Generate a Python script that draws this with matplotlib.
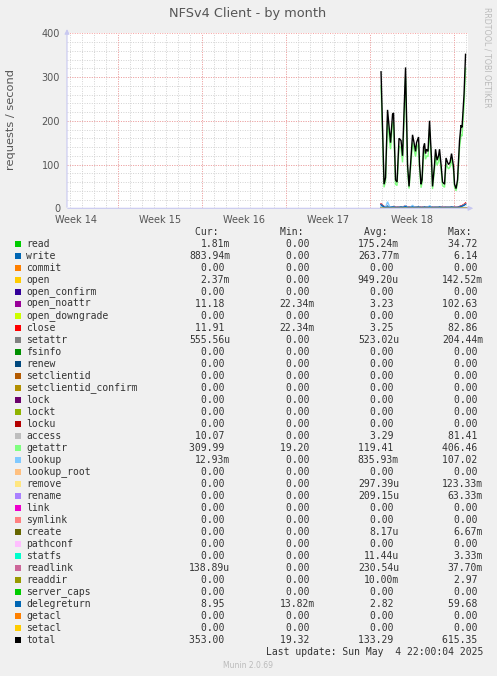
import numpy as np
import matplotlib
matplotlib.use("Agg")
import matplotlib.pyplot as plt

# ---- data ----
week_labels = ["Week 14", "Week 15", "Week 16", "Week 17", "Week 18"]
week_starts = [4.25, 11.25, 18.25, 25.25, 32.25]   # days from left edge of graph
data_start = 26.17                                 # day where samples begin

hours = [0, 6, 9, 13, 17, 19, 23, 25, 29, 32, 36, 40, 43, 46, 49, 53, 56, 59,
         63, 66, 69, 71, 75, 77, 80, 82, 85, 87, 89, 91, 94, 97, 101, 103, 107,
         109, 112, 115, 117, 120, 123, 127, 130, 133, 135, 138, 141, 145, 147,
         150, 153, 157, 160, 162, 166, 169]

total = [312, 55, 70, 225, 175, 150, 215, 218, 65, 60, 160, 155, 120, 220, 322,
         100, 50, 100, 168, 150, 130, 150, 163, 100, 55, 65, 140, 148, 125, 135,
         130, 200, 110, 50, 100, 135, 110, 120, 135, 100, 60, 55, 115, 105, 100,
         105, 125, 95, 55, 45, 65, 155, 190, 185, 260, 352]
getattr_v = [280, 48, 62, 200, 155, 135, 195, 198, 55, 52, 142, 138, 105, 198,
             300, 88, 45, 90, 150, 135, 118, 135, 148, 90, 47, 58, 125, 132, 112,
             120, 118, 180, 98, 44, 90, 120, 98, 107, 120, 90, 52, 48, 102, 94,
             90, 95, 112, 85, 48, 40, 58, 138, 168, 165, 235, 320]
close_v = [10, 4, 3, 4, 3, 3, 3, 4, 2, 2, 3, 3, 3, 4, 5, 3, 2, 3, 3, 3, 3, 3, 3,
           3, 2, 2, 3, 3, 3, 3, 3, 3, 3, 2, 2, 3, 3, 3, 3, 3, 2, 2, 3, 3, 3, 3,
           3, 3, 2, 2, 2, 4, 5, 6, 9, 12]
open_noattr_v = [9, 4, 3, 4, 3, 3, 3, 4, 2, 2, 3, 3, 3, 4, 5, 3, 2, 3, 3, 3, 3,
                 3, 3, 3, 2, 2, 3, 3, 3, 3, 3, 3, 3, 2, 2, 3, 3, 3, 3, 3, 2, 2,
                 3, 3, 3, 3, 3, 3, 2, 2, 2, 4, 5, 6, 8, 11]
delegreturn_v = [8, 3, 2, 3, 2, 2, 3, 3, 2, 2, 2, 3, 2, 3, 4, 2, 2, 2, 3, 2, 2,
                 2, 3, 2, 2, 2, 2, 3, 2, 2, 2, 3, 2, 2, 2, 2, 2, 2, 3, 2, 2, 2,
                 2, 2, 2, 2, 3, 2, 2, 2, 2, 3, 4, 5, 7, 9]
access_v = [9, 3, 3, 4, 3, 3, 3, 3, 2, 2, 3, 3, 3, 3, 4, 3, 2, 3, 3, 3, 3, 3, 3,
            3, 2, 2, 3, 3, 3, 3, 3, 3, 3, 2, 2, 3, 3, 3, 3, 3, 2, 2, 3, 3, 3, 3,
            3, 3, 2, 2, 2, 3, 4, 5, 8, 10]
write_v = [2, 1, 1, 5, 2, 1, 1, 1, 0, 0, 1, 1, 1, 2, 4, 1, 0, 1, 2, 1, 1, 1, 1,
           1, 0, 0, 1, 1, 1, 1, 1, 3, 1, 0, 1, 1, 1, 1, 1, 1, 0, 0, 1, 1, 1, 1,
           1, 1, 0, 0, 0, 1, 1, 1, 1, 1]
lookup_v = [3, 2, 2, 15, 4, 3, 3, 3, 1, 1, 2, 2, 2, 3, 6, 2, 1, 2, 7, 3, 2, 2, 2,
            2, 1, 1, 2, 2, 2, 2, 2, 6, 2, 1, 2, 2, 2, 2, 2, 2, 1, 1, 2, 2, 2, 2,
            2, 2, 1, 1, 1, 2, 2, 2, 2, 2]

names = ["read", "write", "commit", "open", "open_confirm", "open_noattr",
         "open_downgrade", "close", "setattr", "fsinfo", "renew", "setclientid",
         "setclientid_confirm", "lock", "lockt", "locku", "access", "getattr",
         "lookup", "lookup_root", "remove", "rename", "link", "symlink", "create",
         "pathconf", "statfs", "readlink", "readdir", "server_caps", "delegreturn",
         "getacl", "setacl", "total"]
colors = ["#00CC00", "#0066B3", "#FF8000", "#FFCC00", "#330099", "#990099",
          "#CCFF00", "#FF0000", "#808080", "#008F00", "#00487D", "#B35A00",
          "#B38F00", "#6B006B", "#8FB300", "#B30000", "#BEBEBE", "#80FF80",
          "#80C9FF", "#FFC080", "#FFE680", "#AA80FF", "#EE00CC", "#FF8080",
          "#666600", "#FFBFFF", "#00FFCC", "#CC6699", "#999900", "#00CC00",
          "#0066B3", "#FF8000", "#FFCC00", "#000000"]
cur = ["1.81m", "883.94m", "0.00", "2.37m", "0.00", "11.18", "0.00", "11.91",
       "555.56u", "0.00", "0.00", "0.00", "0.00", "0.00", "0.00", "0.00",
       "10.07", "309.99", "12.93m", "0.00", "0.00", "0.00", "0.00", "0.00",
       "0.00", "0.00", "0.00", "138.89u", "0.00", "0.00", "8.95", "0.00",
       "0.00", "353.00"]
mins = ["0.00", "0.00", "0.00", "0.00", "0.00", "22.34m", "0.00", "22.34m",
        "0.00", "0.00", "0.00", "0.00", "0.00", "0.00", "0.00", "0.00", "0.00",
        "19.20", "0.00", "0.00", "0.00", "0.00", "0.00", "0.00", "0.00", "0.00",
        "0.00", "0.00", "0.00", "0.00", "13.82m", "0.00", "0.00", "19.32"]
avgs = ["175.24m", "263.77m", "0.00", "949.20u", "0.00", "3.23", "0.00", "3.25",
        "523.02u", "0.00", "0.00", "0.00", "0.00", "0.00", "0.00", "0.00",
        "3.29", "119.41", "835.93m", "0.00", "297.39u", "209.15u", "0.00",
        "0.00", "8.17u", "0.00", "11.44u", "230.54u", "10.00m", "0.00", "2.82",
        "0.00", "0.00", "133.29"]
maxs = ["34.72", "6.14", "0.00", "142.52m", "0.00", "102.63", "0.00", "82.86",
        "204.44m", "0.00", "0.00", "0.00", "0.00", "0.00", "0.00", "0.00",
        "81.41", "406.46", "107.02", "0.00", "123.33m", "63.33m", "0.00", "0.00",
        "6.67m", "0.00", "3.33m", "37.70m", "2.97", "0.00", "59.68", "0.00",
        "0.00", "615.35"]

series = {"write": write_v, "open_noattr": open_noattr_v, "close": close_v,
          "access": access_v, "getattr": getattr_v, "lookup": lookup_v,
          "delegreturn": delegreturn_v, "total": total}

W, H = 497, 676
BG = "#F0F0F0"
fig = plt.figure(figsize=(W / 100, H / 100), dpi=100, facecolor=BG)


def px(x, y):
    return x / W, 1 - y / H


ax = fig.add_axes([67 / W, 1 - 208.3 / H, 401 / W, 175 / H])
ax.set_facecolor("white")
days = data_start + np.array(hours) / 24.0
for name, col in zip(names, colors):
    vals = series.get(name, np.zeros(len(hours)))
    ax.plot(days, vals, color=col, lw=1.0, solid_joinstyle="miter", zorder=3)

ax.set_xlim(0, 401 / 12)
ax.set_ylim(0, 400)

# grid: minor gray, major red
minor = dict(color="#D2D2D2", lw=0.7, ls=(0, (1, 1.5)), zorder=1)
major = dict(color="#F7A0A0", lw=0.7, ls=(0, (1, 1.5)), zorder=2)
for d in np.arange(0.25, 401 / 12, 1.0):
    ax.axvline(d, **minor)
for v in range(20, 400, 20):
    ax.axhline(v, **minor)
for d in week_starts:
    ax.axvline(d, **major)
for v in range(100, 401, 100):
    ax.axhline(v, **major)

for s in ax.spines.values():
    s.set_visible(False)
ax.set_xticks([w - 3.5 for w in week_starts])
ax.set_xticklabels(week_labels)
ax.set_yticks([0, 100, 200, 300, 400])
ax.tick_params(length=0, labelsize=7, colors="#555555")
ax.tick_params(axis="x", pad=4.5)
ax.tick_params(axis="y", pad=5)

# axis arrows
arrow = dict(arrowstyle="-|>", color="#C8C8F0", lw=0.8, mutation_scale=7)
ax.annotate("", xy=(1.02, 0), xytext=(-0.005, 0), xycoords="axes fraction",
            arrowprops=arrow, annotation_clip=False)
ax.annotate("", xy=(0, 1.04), xytext=(0, -0.01), xycoords="axes fraction",
            arrowprops=arrow, annotation_clip=False)

fig.text(*px(248, 13), "NFSv4 Client - by month", ha="center", va="center",
         fontsize=9.3, color="#555555")
fig.text(*px(11, 120), "requests / second", ha="center", va="center",
         rotation=90, fontsize=8.2, color="#555555")
fig.text(*px(487, 57), "RRDTOOL / TOBI OETIKER", ha="center", va="center",
         rotation=270, fontsize=5.7, color="#BBBBBB")

# legend table
mono = dict(family="DejaVu Sans Mono", fontsize=7, color="#333333", va="center")
col_right = [230, 315, 399, 483]
for x, head in zip(col_right, ["Cur:", "Min:", "Avg:", "Max:"]):
    fig.text(*px(x, 232), head + "  ", ha="right", **mono)


def fmt(s):
    return s if s[-1] in "mu" else s + " "


for i, name in enumerate(names):
    y = 244 + 12 * i
    fig.patches.append(plt.Rectangle(px(14.5, y + 3), 6 / W, 6 / H,
                                     transform=fig.transFigure,
                                     facecolor=colors[i], edgecolor="none"))
    fig.text(*px(26.5, y), name, ha="left", **mono)
    for x, vals in zip(col_right, [cur, mins, avgs, maxs]):
        fig.text(*px(x, y), fmt(vals[i]), ha="right", **mono)

fig.text(*px(483, 652), "Last update: Sun May  4 22:00:04 2025", ha="right",
         **mono)
fig.text(*px(248, 665), "Munin 2.0.69", ha="center", va="center",
         fontsize=5.5, color="#BBBBBB")

fig.savefig("out.png", dpi=100, facecolor=BG)
